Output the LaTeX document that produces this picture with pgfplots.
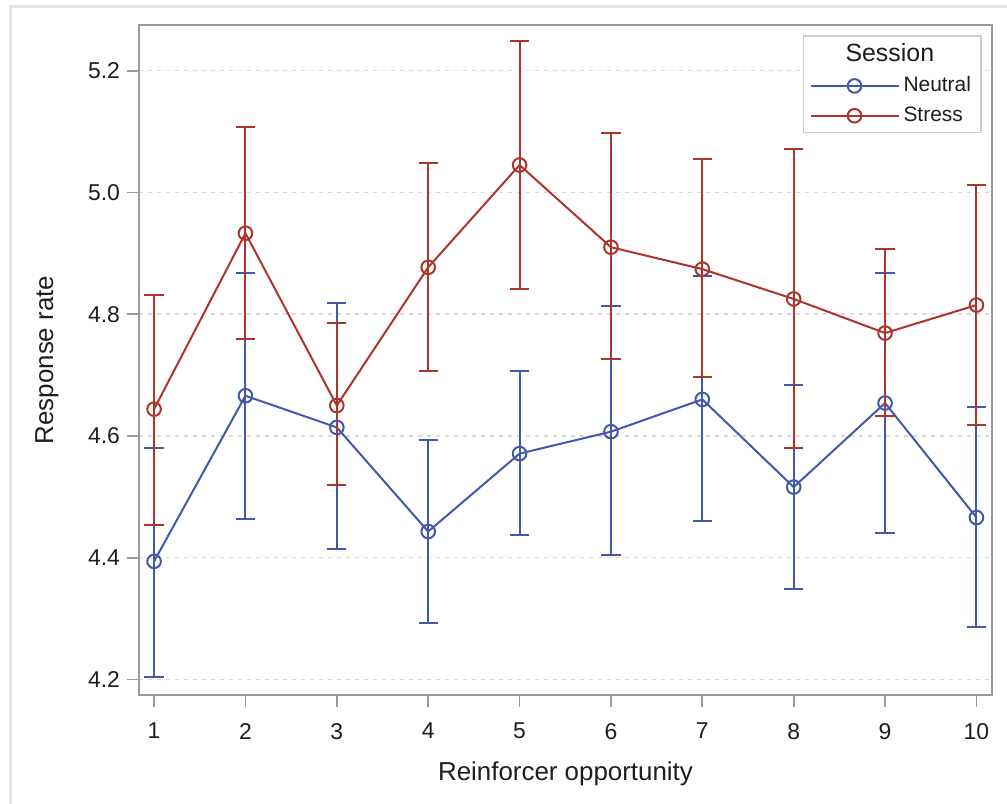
\documentclass[border=0pt]{standalone}
\usepackage{fontspec}
\setmainfont{Liberation Sans}
\usepackage{pgfplots}
\pgfplotsset{compat=1.18}
\usepackage{pgfplotstable}
\definecolor{cblue}{RGB}{66,88,168}
\definecolor{cred}{RGB}{172,52,42}
\definecolor{axgray}{RGB}{150,155,160}
\definecolor{txt}{RGB}{30,30,30}

\pgfplotstableread{
x y lo hi
1 4.394 4.204 4.581
2 4.666 4.463 4.867
3 4.614 4.414 4.818
4 4.443 4.292 4.594
5 4.571 4.438 4.707
6 4.607 4.405 4.814
7 4.660 4.460 4.862
8 4.516 4.348 4.683
9 4.654 4.440 4.867
10 4.466 4.286 4.648
}\neutral

\pgfplotstableread{
x y lo hi
1 4.644 4.453 4.831
2 4.933 4.759 5.107
3 4.650 4.519 4.785
4 4.877 4.706 5.048
5 5.045 4.842 5.248
6 4.910 4.726 5.097
7 4.874 4.696 5.055
8 4.825 4.581 5.071
9 4.769 4.632 4.907
10 4.815 4.618 5.012
}\stress

\begin{document}
\begin{tikzpicture}
\useasboundingbox (-69.5bp,-54.5bp) rectangle (434bp,347.5bp);
\draw[gray!22, line width=1.5bp] (-64bp,-60bp) -- (-64bp,344bp) -- (440bp,344bp);
\begin{axis}[
  scale only axis, width=426.5bp, height=335bp,
  xmin=0.835, xmax=10.17, ymin=4.1745, ymax=5.275,
  xtick={1,2,3,4,5,6,7,8,9,10},
  ytick={4.2,4.4,4.6,4.8,5.0,5.2},
  yticklabel style={/pgf/number format/.cd, fixed, fixed zerofill, precision=1},
  /pgf/number format/assume math mode=true,
  tick align=outside, major tick length=6bp,
  xtick pos=bottom, ytick pos=left,
  axis line style={axgray, line width=0.9bp},
  tick style={axgray, line width=0.9bp},
  ymajorgrids,
  major grid style={gray!30, dash pattern=on 2bp off 2.5bp, line width=0.7bp},
  ticklabel style={font=\fontsize{11.5}{13}\selectfont, text=txt},
  xticklabel style={yshift=-4.5bp},
  label style={font=\fontsize{13}{15}\selectfont, text=txt},
  xlabel={Reinforcer opportunity},
  ylabel={Response rate},
  xlabel style={at={(axis description cs:0.5,-0.1269)}, anchor=base},
  ylabel style={at={(axis description cs:-0.1008,0.5)}, anchor=base},
  legend style={at={(0.988,0.985)}, anchor=north east, draw=gray!40, line width=0.8bp,
    font=\fontsize{10.5}{12.5}\selectfont, text=txt, cells={anchor=west}, row sep=2bp,
    inner xsep=3bp},
  legend image code/.code={\draw[#1,mark repeat=2,mark phase=2] plot coordinates {(0bp,0bp) (22bp,0bp) (44bp,0bp)};},
  every axis plot/.append style={line width=1bp, mark=o, mark size=3.4bp},
]
\addlegendimage{empty legend}
\addlegendentry{\hspace*{-29bp}\fontsize{12.5}{14}\selectfont Session}
\addplot[cblue, mark options={solid},
  error bars/.cd, y dir=both, y explicit,
  error bar style={cblue, line width=1bp},
  error mark options={rotate=90, cblue, mark size=4.8bp, line width=1bp}]
  table[x=x, y=y, y error plus expr=\thisrow{hi}-\thisrow{y}, y error minus expr=\thisrow{y}-\thisrow{lo}] {\neutral};
\addlegendentry{Neutral}
\addplot[cred, mark options={solid},
  error bars/.cd, y dir=both, y explicit,
  error bar style={cred, line width=1bp},
  error mark options={rotate=90, cred, mark size=4.8bp, line width=1bp}]
  table[x=x, y=y, y error plus expr=\thisrow{hi}-\thisrow{y}, y error minus expr=\thisrow{y}-\thisrow{lo}] {\stress};
\addlegendentry{Stress}
\end{axis}
\end{tikzpicture}
\end{document}
